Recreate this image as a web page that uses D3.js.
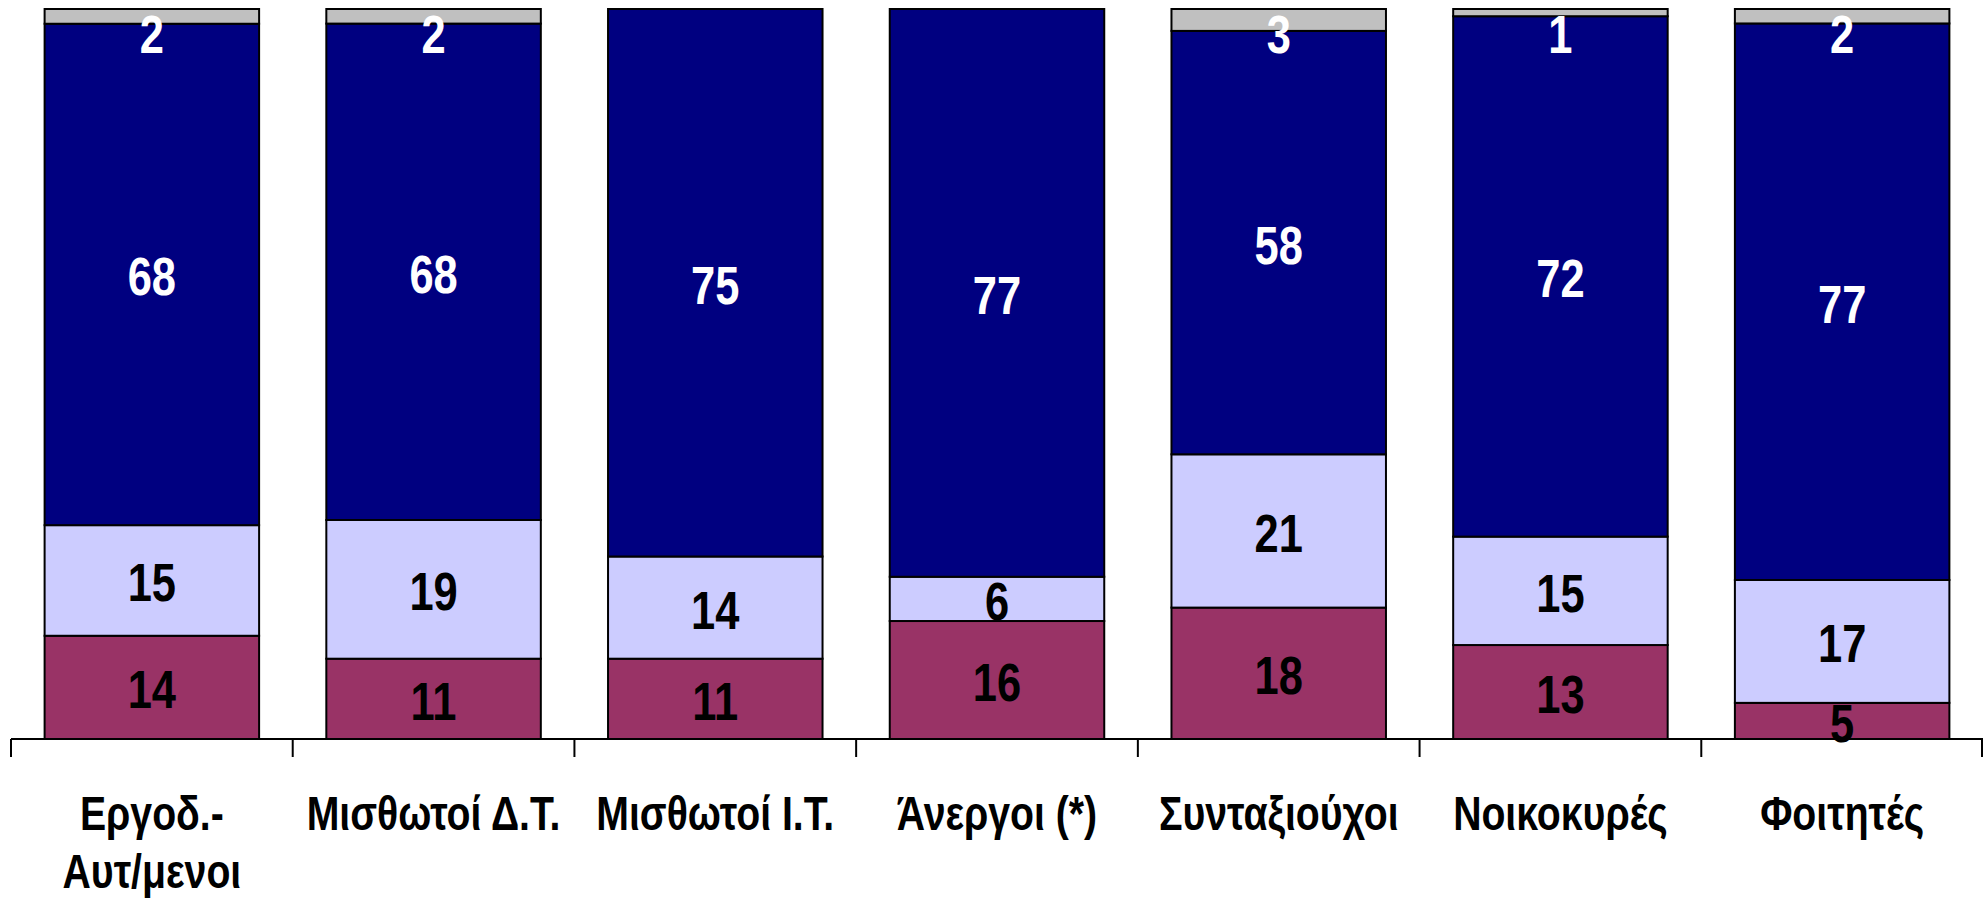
<!DOCTYPE html>
<html>
<head>
<meta charset="utf-8">
<script src="https://cdn.jsdelivr.net/npm/d3@7"></script>
<style>
  body { margin: 0; background: #fff; }
  svg text { font-family: "Liberation Sans", Arial, sans-serif; font-weight: bold; }
</style>
</head>
<body>
<script>
// categories (x axis), each label split in lines as in the original
var categories = ["Εργοδ.-\nΑυτ/μενοι", "Μισθωτοί Δ.Τ.", "Μισθωτοί Ι.Τ.", "Άνεργοι (*)", "Συνταξιούχοι", "Νοικοκυρές", "Φοιτητές"];

// series values, bottom to top
var seriesKeys = ["s1", "s2", "s3", "s4"];
var s1Values = [14, 11, 11, 16, 18, 13, 5];   // maroon
var s2Values = [15, 19, 14, 6, 21, 15, 17];   // lavender
var s3Values = [68, 68, 75, 77, 58, 72, 77];  // navy
var s4Values = [2, 2, 0, 0, 3, 1, 2];         // grey

var colors = {s1: "#993366", s2: "#CCCCFF", s3: "#000080", s4: "#C0C0C0"};
var labelColors = {s1: "#000", s2: "#000", s3: "#fff", s4: "#fff"};

var screen = {width: 1984, height: 899};
var plot = {left: 11, right: 1983, top: 9, bottom: 739};
var narrow = 0.82; // no Arial Narrow installed: squeeze Liberation Sans

var rows = categories.map(function(c, i) {
  return {cat: c, s1: s1Values[i], s2: s2Values[i], s3: s3Values[i], s4: s4Values[i]};
});

// 100% stacked
var stacked = d3.stack()
                .keys(seriesKeys)
                .offset(d3.stackOffsetExpand)(rows);

var pad = 0.2386;
var x = d3.scaleBand()
          .domain(categories)
          .range([plot.left, plot.right])
          .paddingInner(pad)
          .paddingOuter(pad / 2);

var y = d3.scaleLinear()
          .domain([0, 1])
          .range([plot.bottom, plot.top]);

var svg = d3.select("body")
            .append("svg")
            .attr("width", screen.width)
            .attr("height", screen.height);

var layers = svg.append("g")
                .selectAll("g")
                .data(stacked)
                .enter()
                .append("g")
                .attr("fill", function(d) { return colors[d.key]; });

layers.selectAll("rect")
      .data(function(d) { return d; })
      .enter()
      .append("rect")
      .attr("x", function(d) { return x(d.data.cat); })
      .attr("width", x.bandwidth())
      .attr("y", function(d) { return y(d[1]); })
      .attr("height", function(d) { return y(d[0]) - y(d[1]); })
      .attr("stroke", "#000")
      .attr("stroke-width", 2);

// value labels, centred in the segment, kept inside the plot at the top
var fontSize = 53;
layers.each(function(layer) {
  var key = layer.key;
  d3.select(this.parentNode)
    .append("g")
    .selectAll("text")
    .data(layer.filter(function(d) { return d.data[key] > 0; }))
    .enter()
    .append("text")
    .attr("transform", function(d) {
      var mid = (y(d[0]) + y(d[1])) / 2;
      mid = Math.max(mid, plot.top + 23);
      var cx = x(d.data.cat) + x.bandwidth() / 2;
      return "translate(" + cx + "," + (mid + fontSize * 0.358 + 2) + ") scale(" + narrow + ",1)";
    })
    .attr("text-anchor", "middle")
    .attr("font-size", fontSize)
    .attr("fill", labelColors[key])
    .text(function(d) { return d.data[key]; });
});

// axis line and boundary ticks
var axis = svg.append("g");
axis.append("line")
    .attr("x1", plot.left)
    .attr("x2", plot.right)
    .attr("y1", plot.bottom)
    .attr("y2", plot.bottom)
    .attr("stroke", "#000")
    .attr("stroke-width", 2);

var bounds = d3.range(categories.length + 1).map(function(i) {
  return plot.left + i * x.step();
});
axis.selectAll(".tick")
    .data(bounds)
    .enter()
    .append("line")
    .attr("class", "tick")
    .attr("x1", function(d) { return Math.min(d, plot.right - 1); })
    .attr("x2", function(d) { return Math.min(d, plot.right - 1); })
    .attr("y1", plot.bottom)
    .attr("y2", plot.bottom + 18)
    .attr("stroke", "#000")
    .attr("stroke-width", 2);

// category labels
var labels = axis.selectAll(".cat")
                 .data(categories)
                 .enter()
                 .append("text")
                 .attr("class", "cat")
                 .attr("text-anchor", "middle")
                 .attr("font-size", 49)
                 .attr("fill", "#000")
                 .attr("transform", function(d) {
                   return "translate(" + (x(d) + x.bandwidth() / 2) + "," + 830 + ") scale(0.8,1)";
                 });

labels.selectAll("tspan")
      .data(function(d) { return d.split("\n"); })
      .enter()
      .append("tspan")
      .attr("x", 0)
      .attr("y", function(d, i) { return i * 58; })
      .text(function(d) { return d; });
</script>
</body>
</html>
